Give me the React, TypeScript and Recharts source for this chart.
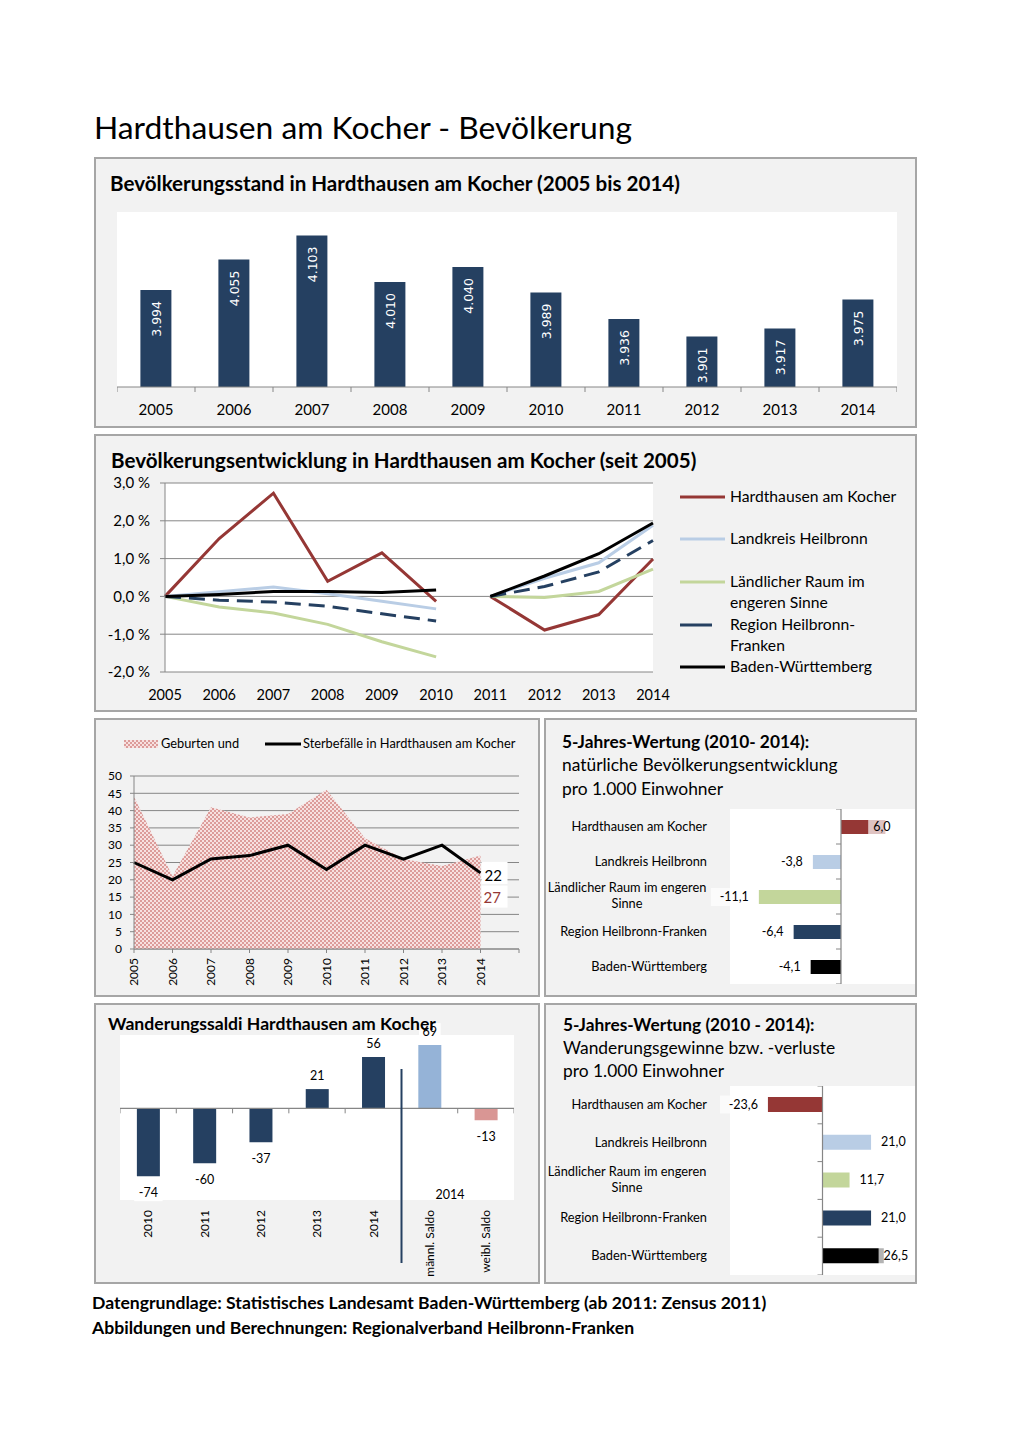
import React from "react";
import {
  BarChart,
  Bar,
  LineChart,
  Line,
  ComposedChart,
  Area,
  XAxis,
  YAxis,
  CartesianGrid,
  LabelList,
  Cell,
  ReferenceLine,
} from "recharts";

const FONT = "Lato, 'Open Sans', sans-serif";
const AXIS = "#868686";
const NAVY = "#254061";
const RED = "#953735";
const LIGHT_BLUE = "#b9cde5";
const GREEN = "#c3d69b";

// Bevölkerungsstand 2005-2014
const years = ["2005", "2006", "2007", "2008", "2009", "2010", "2011", "2012", "2013", "2014"];
const population = [3994, 4055, 4103, 4010, 4040, 3989, 3936, 3901, 3917, 3975];

// Bevölkerungsentwicklung in % (2005-2010 Basis 2005, ab 2011 Basis Zensus 2011)
const yearsBefore = ["2005", "2006", "2007", "2008", "2009", "2010"];
const devHardthausenA = [0, 1.53, 2.73, 0.4, 1.15, -0.13];
const devHardthausenB = [0, -0.89, -0.48, 0.99];
const devLandkreisA = [0, 0.12, 0.25, 0.07, -0.13, -0.33];
const devLandkreisB = [0, 0.48, 0.89, 1.88];
const devLaendlichA = [0, -0.28, -0.44, -0.74, -1.2, -1.6];
const devLaendlichB = [0, -0.03, 0.13, 0.72];
const devRegionA = [0, -0.1, -0.15, -0.26, -0.46, -0.65];
const devRegionB = [0, 0.26, 0.65, 1.48];
const devBwA = [0, 0.05, 0.13, 0.13, 0.1, 0.17];
const devBwB = [0, 0.54, 1.13, 1.94];
const devTicks = [-2, -1, 0, 1, 2, 3];

// Geburten und Sterbefälle
const births = [44, 21, 41, 38, 39, 46, 32, 26, 24, 27];
const deaths = [25, 20, 26, 27, 30, 23, 30, 26, 30, 22];
const vitalTicks = [0, 5, 10, 15, 20, 25, 30, 35, 40, 45, 50];

// 5-Jahres-Wertung pro 1.000 Einwohner
const regions = [
  "Hardthausen am Kocher",
  "Landkreis Heilbronn",
  "Ländlicher Raum im engeren\nSinne",
  "Region Heilbronn-Franken",
  "Baden-Württemberg",
];
const regionColors = [RED, LIGHT_BLUE, GREEN, NAVY, "#000000"];
const naturalPer1000 = [6.0, -3.8, -11.1, -6.4, -4.1];
const migrationPer1000 = [-23.6, 21.0, 11.7, 21.0, 26.5];

// Wanderungssaldi
const saldoLabels = ["2010", "2011", "2012", "2013", "2014", "männl. Saldo", "weibl. Saldo"];
const saldoValues = [-74, -60, -37, 21, 56, 69, -13];
const saldoColors = [NAVY, NAVY, NAVY, NAVY, NAVY, "#95b3d7", "#d99694"];

const devSeries = [
  { key: "hardthausen", name: ["Hardthausen am Kocher"], color: RED, a: devHardthausenA, b: devHardthausenB },
  { key: "landkreis", name: ["Landkreis Heilbronn"], color: LIGHT_BLUE, a: devLandkreisA, b: devLandkreisB },
  { key: "laendlich", name: ["Ländlicher Raum im", "engeren Sinne"], color: GREEN, a: devLaendlichA, b: devLaendlichB },
  { key: "region", name: ["Region Heilbronn-", "Franken"], color: NAVY, a: devRegionA, b: devRegionB, dash: "16 8" },
  { key: "bw", name: ["Baden-Württemberg"], color: "#000000", a: devBwA, b: devBwB },
];

const popData = years.map((year, i) => ({ year, population: population[i] }));

const devData = years.map((year, i) => {
  const row: Record<string, any> = { year };
  const j = i - yearsBefore.length;
  devSeries.forEach((s) => {
    row[s.key + "A"] = j < 0 ? s.a[i] : null;
    row[s.key + "B"] = j >= 0 ? s.b[j] : null;
  });
  return row;
});

const vitalData = [...years, ""].map((year, i) => ({
  year,
  births: i < births.length ? births[i] : null,
  deaths: i < deaths.length ? deaths[i] : null,
}));

const naturalData = regions.map((region, i) => ({ region, value: naturalPer1000[i] }));
const migrationData = regions.map((region, i) => ({ region, value: migrationPer1000[i] }));
const saldoData = saldoLabels.map((label, i) => ({ label, value: saldoValues[i] }));

const fmtThousands = (v: number) => String(v).replace(/\B(?=(\d{3})+(?!\d))/g, ".");
const fmt1 = (v: number) => v.toFixed(1).replace(".", ",");
const fmtPct = (v: number) => `${fmt1(v)} %`;

const BoundaryTick = (props: any) => {
  const { x, y, payload, index } = props;
  const half = 39;
  return (
    <g>
      <line x1={x - half} x2={x - half} y1={y} y2={y + 5} stroke={AXIS} />
      {index === years.length - 1 && <line x1={x + half} x2={x + half} y1={y} y2={y + 5} stroke={AXIS} />}
      <text x={x} y={y + 28} textAnchor="middle" fontSize={15} fontFamily={FONT} fill="#000">
        {payload.value}
      </text>
    </g>
  );
};

const YearTick = (props: any) => {
  const { x, y, payload } = props;
  return (
    <text x={x} y={y + 28} textAnchor="middle" fontSize={14.5} fontFamily={FONT} fill="#000">
      {payload.value}
    </text>
  );
};

const VerticalTick = (props: any) => {
  const { x, y, payload } = props;
  return (
    <text
      transform={`translate(${x + 4.3},${y}) rotate(-90)`}
      textAnchor="end"
      fontSize={12}
      fontFamily={FONT}
      fill="#000"
    >
      {payload.value}
    </text>
  );
};

const RegionTick = (props: any) => {
  const { x, y, payload } = props;
  const lines = String(payload.value).split("\n");
  if (lines.length === 1) {
    return (
      <text x={x} y={y + 4} textAnchor="end" fontSize={12.8} fontFamily={FONT} fill="#000">
        {lines[0]}
      </text>
    );
  }
  return (
    <text textAnchor="middle" fontSize={12.8} fontFamily={FONT} fill="#000">
      <tspan x={x - 80} y={y - 4.5}>{lines[0]}</tspan>
      <tspan x={x - 80} y={y + 11.5}>{lines[1]}</tspan>
    </text>
  );
};

const PopLabel = (props: any) => {
  const { x, y, width, value } = props;
  const cx = Number(x) + Number(width) / 2;
  return (
    <text
      transform={`translate(${cx + 5.5},${Number(y) + 11}) rotate(-90)`}
      textAnchor="end"
      fontSize={12.5}
      fontFamily="'DejaVu Sans', sans-serif"
      fill="#fff"
    >
      {fmtThousands(value)}
    </text>
  );
};

const makeValueLabel = (maxEnd: number) => (props: any) => {
  const { x, y, width, height, value } = props;
  const x1 = Number(x);
  const x2 = Number(x) + Number(width);
  const cy = Number(y) + Number(height) / 2;
  const text = fmt1(Number(value));
  const w = text.length * 6.6;
  if (value >= 0) {
    const start = Math.min(Math.max(x1, x2) + 10, maxEnd - w);
    return (
      <g>
        <rect x={start - 5} y={cy - 9} width={w + 10} height={18} fill="#fff" fillOpacity={0.7} />
        <text x={start} y={cy + 4} fontSize={12.5} fontFamily={FONT} fill="#000">{text}</text>
      </g>
    );
  }
  const end = Math.min(x1, x2) - 10;
  return (
    <g>
      <rect x={end - w - 5} y={cy - 9} width={w + 10} height={18} fill="#fff" fillOpacity={0.7} />
      <text x={end} y={cy + 4} textAnchor="end" fontSize={12.5} fontFamily={FONT} fill="#000">{text}</text>
    </g>
  );
};

const SaldoLabel = (props: any) => {
  const { x, y, width, height, value } = props;
  const cx = Number(x) + Number(width) / 2;
  const top = Math.min(Number(y), Number(y) + Number(height));
  const bottom = Math.max(Number(y), Number(y) + Number(height));
  const by = value >= 0 ? top - 9 : bottom + 21;
  const w = String(value).length * 6.8;
  return (
    <g>
      <rect x={cx - w / 2 - 4} y={by - 13} width={w + 8} height={17} fill="#fff" />
      <text x={cx} y={by} textAnchor="middle" fontSize={12.5} fontFamily={FONT} fill="#000">{value}</text>
    </g>
  );
};

const DeathsLabel = (props: any) => {
  const { x, y, index, value } = props;
  if (index !== deaths.length - 1) return null;
  return (
    <g>
      <rect x={x + 1} y={y - 11} width={26} height={22} fill="#fff" />
      <text x={x + 4} y={y + 8} fontSize={15} fontFamily={FONT} fill="#000">{value}</text>
    </g>
  );
};

const BirthsLabel = (props: any) => {
  const { x, y, index, value } = props;
  if (index !== births.length - 1) return null;
  const v = Array.isArray(value) ? value[1] : value;
  return (
    <g>
      <rect x={x + 1} y={y + 30} width={26} height={22} fill="#fff" />
      <text x={x + 3} y={y + 47} fontSize={15} fontFamily={FONT} fill={RED}>{v}</text>
    </g>
  );
};

const vAxisWithTicks = (count: number) => (p: any) => {
  const x = p.x1;
  const top = Math.min(p.y1, p.y2);
  const h = Math.abs(p.y2 - p.y1);
  return (
    <g>
      <line x1={x} x2={x} y1={p.y1} y2={p.y2} stroke={AXIS} strokeWidth={1.2} />
      {Array.from({ length: count + 1 }, (_, k) => (
        <line key={k} x1={x - 5} x2={x} y1={top + (k * h) / count} y2={top + (k * h) / count} stroke={AXIS} />
      ))}
    </g>
  );
};

const hAxisWithTicks = (count: number) => (p: any) => {
  const y = p.y1;
  const left = Math.min(p.x1, p.x2);
  const w = Math.abs(p.x2 - p.x1);
  return (
    <g>
      <line x1={p.x1} x2={p.x2} y1={y} y2={y} stroke={AXIS} strokeWidth={1.2} />
      {Array.from({ length: count + 1 }, (_, k) => (
        <line key={k} x1={left + (k * w) / count} x2={left + (k * w) / count} y1={y} y2={y + 5} stroke={AXIS} />
      ))}
    </g>
  );
};

const PopulationChart = () => (
  <BarChart width={780} height={210} data={popData} margin={{ top: 0, right: 0, bottom: 0, left: 0 }} barCategoryGap="30%">
    <CartesianGrid horizontal={false} vertical={false} fill="#fff" stroke="none" />
    <YAxis hide domain={[3800, 4150]} allowDataOverflow />
    <XAxis dataKey="year" height={35} stroke={AXIS} tickLine={false} tickSize={0} tickMargin={0} interval={0} tick={BoundaryTick} />
    <Bar dataKey="population" fill={NAVY} isAnimationActive={false}>
      <LabelList dataKey="population" content={PopLabel} />
    </Bar>
  </BarChart>
);

const DevelopmentChart = () => (
  <LineChart width={580} height={245} data={devData} margin={{ top: 18, right: 32, bottom: 0, left: 0 }}>
    <CartesianGrid vertical={false} stroke={AXIS} fill="#fff" />
    <XAxis dataKey="year" scale="point" height={38} axisLine={false} tickLine={false} tickSize={0} tickMargin={0} interval={0} tick={YearTick} />
    <YAxis
      width={60}
      domain={[-2, 3]}
      ticks={devTicks}
      interval={0}
      tickFormatter={fmtPct}
      stroke={AXIS}
      tickSize={5}
      tickMargin={10}
      tick={{ fontSize: 15, fill: "#000", fontFamily: FONT }}
    />
    {devSeries.map((s) =>
      ["A", "B"].map((p) => (
        <Line
          key={s.key + p}
          dataKey={s.key + p}
          stroke={s.color}
          strokeWidth={3}
          strokeDasharray={s.dash}
          dot={false}
          type="linear"
          isAnimationActive={false}
        />
      ))
    )}
  </LineChart>
);

const VitalChart = () => (
  <ComposedChart width={430} height={225} data={vitalData} margin={{ top: 8, right: 7, bottom: 0, left: 0 }}>
    <defs>
      <pattern id="birthsPattern" width={4} height={4} patternUnits="userSpaceOnUse">
        <rect width={4} height={4} fill="#f7e1e0" />
        <rect width={2} height={2} fill="#dc9c9a" />
        <rect x={2} y={2} width={2} height={2} fill="#dc9c9a" />
      </pattern>
    </defs>
    <CartesianGrid vertical={false} stroke={AXIS} />
    <XAxis dataKey="year" scale="point" height={44} stroke={AXIS} tickSize={4} tickMargin={5} interval={0} tick={VerticalTick} />
    <YAxis
      width={38}
      domain={[0, 50]}
      ticks={vitalTicks}
      interval={0}
      stroke={AXIS}
      tickSize={4}
      tickMargin={8}
      tick={{ fontSize: 12, fill: "#000", fontFamily: FONT }}
    />
    <Area dataKey="births" type="linear" stroke="none" fill="url(#birthsPattern)" fillOpacity={1} isAnimationActive={false}>
      <LabelList dataKey="births" content={BirthsLabel} />
    </Area>
    <Line dataKey="deaths" type="linear" stroke="#000" strokeWidth={3} dot={false} isAnimationActive={false}>
      <LabelList dataKey="deaths" content={DeathsLabel} />
    </Line>
  </ComposedChart>
);

const RegionBarChart = ({ data, height, domain, barSize, maxEnd }: any) => (
  <BarChart layout="vertical" width={370} height={height} data={data} margin={{ top: 0, right: 0, bottom: 0, left: 0 }}>
    <CartesianGrid horizontal={false} vertical={false} fill="#fff" stroke="none" />
    <XAxis type="number" hide domain={domain} allowDataOverflow />
    <YAxis
      type="category"
      dataKey="region"
      width={185}
      axisLine={false}
      tickLine={false}
      tickSize={0}
      tickMargin={23}
      interval={0}
      tick={RegionTick}
    />
    <ReferenceLine x={0} stroke={AXIS} shape={vAxisWithTicks(data.length)} />
    <Bar dataKey="value" barSize={barSize} isAnimationActive={false}>
      {data.map((_: any, i: number) => (
        <Cell key={i} fill={regionColors[i]} />
      ))}
      <LabelList dataKey="value" content={makeValueLabel(maxEnd)} />
    </Bar>
  </BarChart>
);

const SaldoChart = () => (
  <BarChart width={394} height={270} data={saldoData} margin={{ top: 25, right: 0, bottom: 0, left: 0 }} barCategoryGap="30%">
    <YAxis hide domain={[-100, 80]} allowDataOverflow />
    <XAxis dataKey="label" height={80} axisLine={false} tickLine={false} tickSize={0} tickMargin={10} interval={0} tick={VerticalTick} />
    <ReferenceLine y={0} stroke={AXIS} shape={hAxisWithTicks(saldoLabels.length)} />
    <Bar dataKey="value" isAnimationActive={false}>
      {saldoData.map((_, i) => (
        <Cell key={i} fill={saldoColors[i]} />
      ))}
      <LabelList dataKey="value" content={SaldoLabel} />
    </Bar>
  </BarChart>
);

const T = ({ x, y, size, bold, anchor, fill, children }: any) => (
  <text
    x={x}
    y={y}
    fontSize={size}
    fontWeight={bold ? 700 : 400}
    textAnchor={anchor ?? "start"}
    fill={fill ?? "#000"}
    fontFamily={FONT}
  >
    {children}
  </text>
);

const legendY = [497, 539, 582, 625, 667];

const Overlay = () => (
  <svg width={1020} height={1443} style={{ position: "absolute", left: 0, top: 0, pointerEvents: "none" }}>
    <defs>
      <pattern id="legendPattern" width={4} height={4} patternUnits="userSpaceOnUse">
        <rect width={4} height={4} fill="#f7e1e0" />
        <rect width={2} height={2} fill="#dc9c9a" />
        <rect x={2} y={2} width={2} height={2} fill="#dc9c9a" />
      </pattern>
    </defs>
    <T x={94} y={139} size={31.8}>Hardthausen am Kocher - Bevölkerung</T>
    <T x={110} y={191} size={20.6} bold>Bevölkerungsstand in Hardthausen am Kocher (2005 bis 2014)</T>
    <T x={111} y={468} size={20.6} bold>Bevölkerungsentwicklung in Hardthausen am Kocher (seit 2005)</T>

    {devSeries.map((s, i) => (
      <g key={s.key}>
        <line
          x1={680}
          x2={s.dash ? 712 : 725}
          y1={legendY[i]}
          y2={legendY[i]}
          stroke={s.color}
          strokeWidth={3}
        />
        {s.name.map((line, k) => (
          <T key={k} x={730} y={legendY[i] + 5 + k * 21} size={15.7}>{line}</T>
        ))}
      </g>
    ))}

    <rect x={124} y={740} width={34} height={8} fill="url(#legendPattern)" />
    <T x={161} y={748} size={12.8}>Geburten und</T>
    <line x1={265} x2={301} y1={744} y2={744} stroke="#000" strokeWidth={3} />
    <T x={303} y={748} size={12.8}>Sterbefälle in Hardthausen am Kocher</T>

    <T x={562} y={748} size={17.3} bold>5-Jahres-Wertung (2010- 2014):</T>
    <T x={562} y={771} size={17.4}>natürliche Bevölkerungsentwicklung</T>
    <T x={562} y={795} size={17.4}>pro 1.000 Einwohner</T>

    <T x={563} y={1031} size={17.3} bold>5-Jahres-Wertung (2010 - 2014):</T>
    <T x={563} y={1054} size={17.4}>Wanderungsgewinne bzw. -verluste</T>
    <T x={563} y={1077} size={17.4}>pro 1.000 Einwohner</T>

    <line x1={401.5} x2={401.5} y1={1069} y2={1263} stroke={NAVY} strokeWidth={2} />
    <T x={450} y={1199} size={12.5} anchor="middle">2014</T>
    <T x={108} y={1030} size={17.6} bold>Wanderungssaldi Hardthausen am Kocher</T>

    <T x={92} y={1309} size={17.6} bold>Datengrundlage: Statistisches Landesamt Baden-Württemberg (ab 2011: Zensus 2011)</T>
    <T x={92} y={1334} size={17.6} bold>Abbildungen und Berechnungen: Regionalverband Heilbronn-Franken</T>
  </svg>
);

const panels = [
  [94, 157, 823, 271],
  [94, 434, 823, 278],
  [94, 718, 446, 279],
  [544, 718, 373, 279],
  [94, 1003, 446, 281],
  [544, 1003, 373, 281],
];

const at = (left: number, top: number): React.CSSProperties => ({ position: "absolute", left, top });

export default function App() {
  return (
    <div
      style={{
        position: "absolute",
        left: 0,
        top: 0,
        width: 1020,
        height: 1443,
        background: "#fff",
        fontFamily: FONT,
        overflow: "hidden",
      }}
    >
      {panels.map(([l, t, w, h], i) => (
        <div
          key={i}
          style={{
            ...at(l, t),
            width: w,
            height: h,
            boxSizing: "border-box",
            border: "2px solid #a6a6a6",
            background: "#f2f2f2",
          }}
        />
      ))}
      <div style={{ ...at(120, 1035), width: 394, height: 165, background: "#fff" }} />
      <div style={at(117, 212)}>
        <PopulationChart />
      </div>
      <div style={at(105, 465)}>
        <DevelopmentChart />
      </div>
      <div style={at(96, 768)}>
        <VitalChart />
      </div>
      <div style={at(545, 809)}>
        <RegionBarChart data={naturalData} height={175} domain={[-15, 10]} barSize={14} maxEnd={348} />
      </div>
      <div style={at(120, 1010)}>
        <SaldoChart />
      </div>
      <div style={at(545, 1086)}>
        <RegionBarChart data={migrationData} height={189} domain={[-40, 40]} barSize={15} maxEnd={365} />
      </div>
      <Overlay />
    </div>
  );
}
